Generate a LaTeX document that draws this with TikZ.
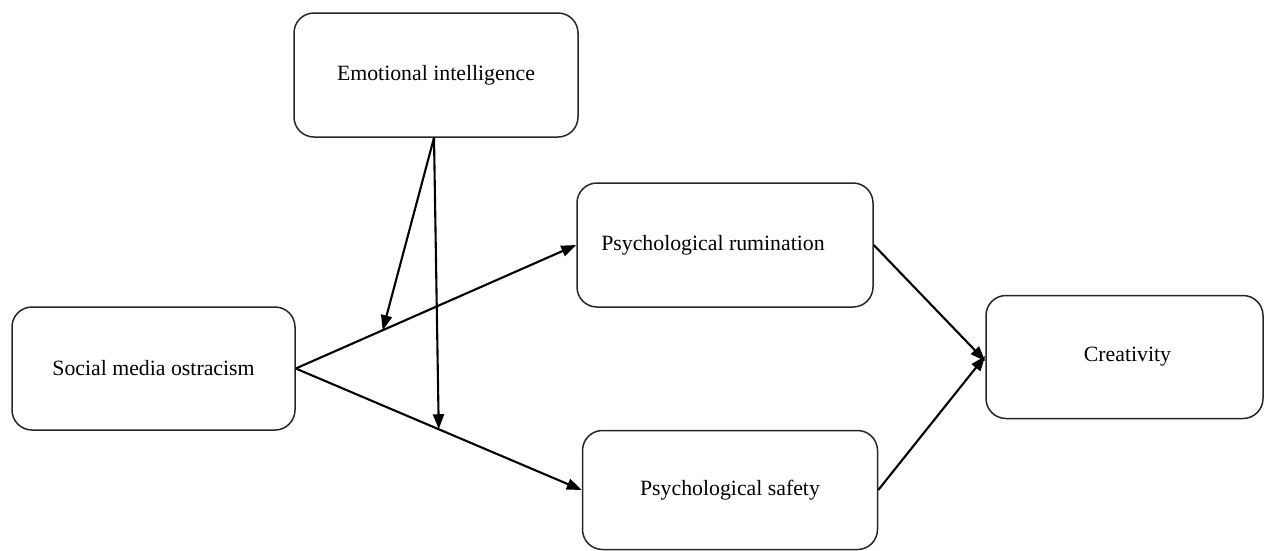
\documentclass[tikz,border=0pt]{standalone}
\usepackage{fontspec}
\setmainfont{Liberation Serif}
\usetikzlibrary{arrows.meta,calc}
\tikzset{
  box/.style={draw=black!85, rounded corners=20pt, line width=1.5pt, inner sep=0pt,
    font=\fontsize{21.8}{26}\selectfont, align=center},
  conn/.style={line width=2.1pt, -{Triangle[length=15pt,width=11pt]}},
}
\begin{document}
\begin{tikzpicture}[x=1pt,y=-1pt]
\useasboundingbox (0,0) rectangle (1264,550);
\node[box, minimum width=284pt, minimum height=124pt] (ei) at (436,75) {Emotional intelligence};
\node[box, minimum width=296pt, minimum height=124pt] (rum) at (725,245) {Psychological rumination\hspace*{24pt}};
\node[box, minimum width=283pt, minimum height=123pt] (smo) at (153.5,368.5) {Social media ostracism};
\node[box, minimum width=277pt, minimum height=123pt] (cre) at (1124.5,357) {Creativity\hspace*{-6pt}};
\node[box, minimum width=295pt, minimum height=119pt] (saf) at (730,490) {Psychological safety};
\coordinate (m1) at ($(smo.east)!0.31!(rum.west)$);
\coordinate (m2) at ($(smo.east)!0.5!(saf.west)$);
\draw[conn] (smo.east) -- (rum.west);
\draw[conn] (smo.east) -- (saf.west);
\draw[conn] ([xshift=-2pt]ei.south) -- (m1);
\draw[conn] ([xshift=-2pt]ei.south) -- (m2);
\draw[conn] (rum.east) -- ([yshift=-4pt]cre.west);
\draw[conn] (saf.east) -- ([yshift=1pt]cre.west);
\end{tikzpicture}
\end{document}
